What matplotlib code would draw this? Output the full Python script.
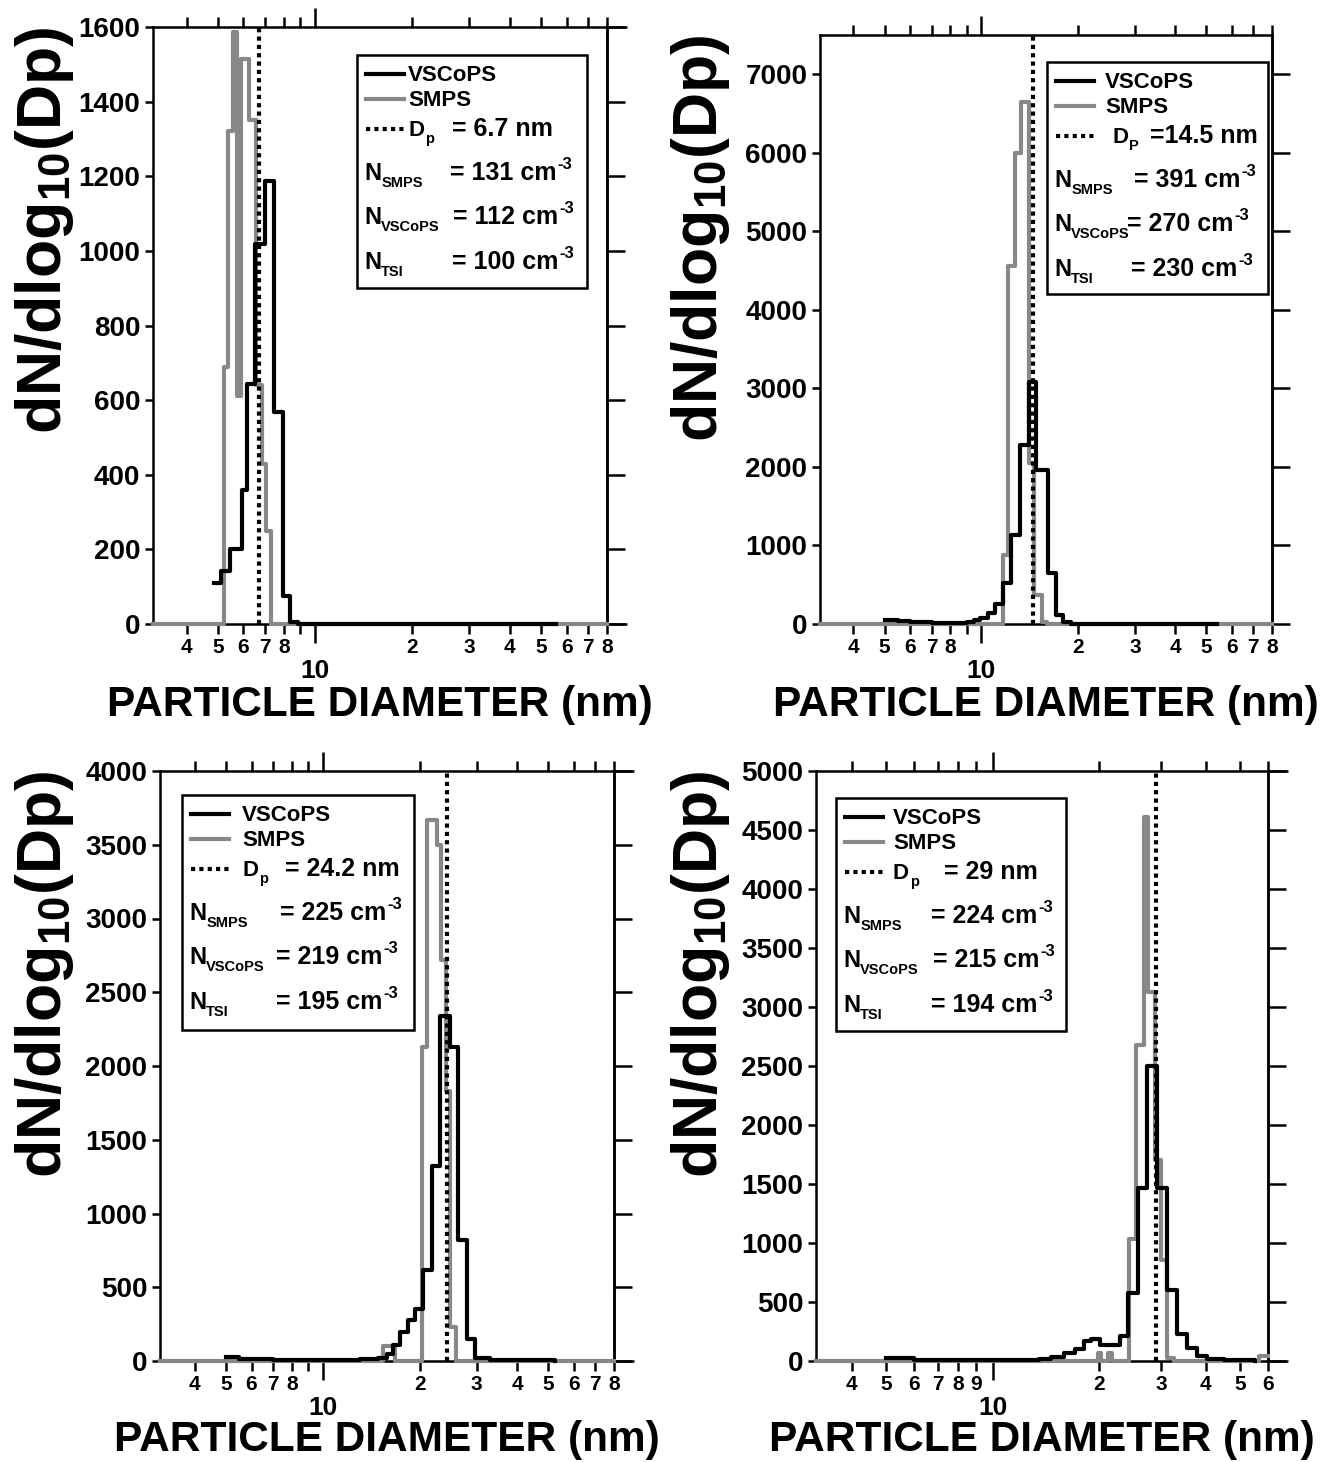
import matplotlib
matplotlib.use('Agg')
import matplotlib.pyplot as plt
from matplotlib.ticker import FixedLocator, FixedFormatter
from matplotlib.patches import Rectangle

plt.rcParams['font.family'] = 'Liberation Sans'
plt.rcParams['font.weight'] = 'bold'
plt.rcParams['mathtext.fontset'] = 'custom'
for k in ['rm', 'it', 'bf', 'sf']:
    plt.rcParams['mathtext.' + k] = 'Liberation Sans:bold'
plt.rcParams['mathtext.default'] = 'rm'

# ---- data ----
# panel 1 : Dp = 6.7 nm
p1_vscops_dp = [4.87, 5.13, 5.45, 5.92, 6.14, 6.51, 7.0, 7.46, 7.97, 8.36, 8.87, 55.6]
p1_vscops_dn = [111, 141, 202, 358, 644, 1019, 1186, 568, 74, 5, 0, 0]
p1_smps_dp = [3.15, 5.22, 5.37, 5.56, 5.74, 5.91, 6.24, 6.56, 6.85, 7.04, 7.30, 80]
p1_smps_dn = [0, 690, 1320, 1587, 610, 1515, 1350, 640, 430, 250, 0, 0]

# panel 2 : Dp = 14.5 nm
p2_vscops_dp = [5.0, 5.5, 6.0, 7.0, 8.0, 9.0, 9.5, 9.91, 10.5, 11.0, 11.7, 12.4, 13.15,
                14.1, 14.8, 16.1, 17.1, 17.9, 19.0, 54]
p2_vscops_dn = [45, 35, 25, 15, 15, 25, 45, 75, 140, 254, 520, 1130, 2280,
                3080, 1960, 650, 115, 25, 0, 0]
p2_smps_dp = [3.15, 11.7, 12.1, 12.7, 13.3, 14.1, 14.6, 15.4, 16.0, 80]
p2_smps_dn = [0, 880, 4560, 6000, 6650, 2050, 370, 25, 0, 0]

# panel 3 : Dp = 24.2 nm
p3_vscops_dp = [5.0, 5.5, 7.0, 10.0, 13.0, 14.8, 15.77, 16.53, 17.34, 18.4, 19.3, 20.5,
                21.8, 23.1, 24.8, 26.3, 27.9, 29.6, 33.0, 40.0, 52.5]
p3_vscops_dn = [25, 12, 8, 8, 12, 20, 47, 111, 199, 278, 352, 617,
                1322, 2342, 2130, 817, 149, 23, 10, 4, 0]
p3_smps_dp = [3.12, 15.4, 16.7, 20.3, 21.1, 22.6, 23.2, 24.0, 24.8, 25.9, 80]
p3_smps_dn = [0, 100, 0, 2130, 3670, 3500, 2720, 1830, 230, 0, 0]

# panel 4 : Dp = 29 nm
p4_vscops_dp = [5.0, 6.0, 8.0, 10.0, 12.0, 13.5, 14.6, 15.9, 17.1, 18.1, 19.0, 20.1, 22.9,
                24.2, 25.8, 27.3, 29.1, 31.1, 33.1, 35.4, 37.7, 40.3, 45.0, 55.0]
p4_vscops_dn = [25, 10, 5, 5, 10, 20, 34, 68, 100, 170, 190, 135, 214,
                576, 1469, 2496, 1469, 605, 230, 110, 45, 20, 8, 0]
p4_smps_dp = [3.17, 19.8, 20.3, 21.2, 21.8, 24.3, 25.4, 26.7, 27.4, 28.8, 29.9, 31.1,
              32.5, 56.5, 60]
p4_smps_dn = [0, 65, 0, 65, 0, 1030, 2680, 4614, 3130, 1700, 860, 25,
              0, 40, 40]

dp_lines = [6.7, 14.5, 24.2, 29.0]
xlims = [(3.15, 80), (3.15, 80), (3.12, 80), (3.17, 60)]
ylims = [1600, 7500, 4000, 5000]
ytick_steps = [200, 1000, 500, 500]
ytick_max = [1600, 7000, 4000, 5000]

dp_sub = ['p', 'P', 'p', 'p']
dp_texts = ['= 6.7 nm', '=14.5 nm', '= 24.2 nm', '= 29 nm']
n_smps = [131, 391, 225, 224]
n_vscops = [112, 270, 219, 215]
n_tsi = [100, 230, 195, 194]

# ---- layout (figure pixels) ----
W, H = 1330, 1462
rects = [(153, 27, 607, 624), (820, 35, 1272, 624),
         (160, 771, 614, 1361), (816, 771, 1268, 1361)]
boxes = [(357, 55, 587, 288), (1047, 62, 1268, 294),
         (182, 795, 414, 1030), (836, 798, 1066, 1031)]
label_x = [51, 58, 60, 57]
dpname_x = [51, 65, 60, 57]
dpeq_x = [95, 103, 103, 108]
eq_x = [[93, 96, 95], [87, 80, 84], [98, 94, 94], [95, 97, 95]]
ext = [20, 0, 20, 20]
ylab_x = [45, 700, 45, 700]
xlab_y = [705, 705, 1440, 1440]

GRAY = '#888888'


def frac(rect, x, y):
    l, t, r, b = rect
    return (x - l) / (r - l), (b - y) / (b - t)


fig = plt.figure(figsize=(W / 100, H / 100), dpi=100)
renderer = fig.canvas.get_renderer()


def put(x, y, s, size):
    """figure text at pixel x, baseline y (from top); returns right edge"""
    t = fig.text(x / W, 1 - y / H, s, fontsize=size, ha='left', va='baseline')
    return t.get_window_extent(renderer).x1


blacks = [(p1_vscops_dp, p1_vscops_dn), (p2_vscops_dp, p2_vscops_dn),
          (p3_vscops_dp, p3_vscops_dn), (p4_vscops_dp, p4_vscops_dn)]
grays = [(p1_smps_dp, p1_smps_dn), (p2_smps_dp, p2_smps_dn),
         (p3_smps_dp, p3_smps_dn), (p4_smps_dp, p4_smps_dn)]

for i in range(4):
    l, t, r, b = rects[i]
    ax = fig.add_axes([l / W, 1 - b / H, (r - l) / W, (b - t) / H])
    ax.set_xscale('log')

    gx, gy = grays[i]
    bx, by = blacks[i]
    ax.step(gx, gy, where='post', color=GRAY, lw=3, clip_on=False, zorder=3)
    ax.step(bx, by, where='post', color='k', lw=3, clip_on=False, zorder=4)
    ax.axvline(dp_lines[i], color='k', lw=3, linestyle=(0, (1, 1)),
               dash_capstyle='butt', zorder=5)

    ax.set_xlim(*xlims[i])
    ax.set_ylim(0, ylims[i])

    # x ticks: one major at 10, minor ticks labelled with the leading digit
    minor = [v for v in [4, 5, 6, 7, 8, 9, 20, 30, 40, 50, 60, 70, 80, 90]
             if xlims[i][0] <= v <= xlims[i][1] + 0.01]
    mlabels = []
    for v in minor:
        if v == 9 and i != 3:
            mlabels.append('')
        else:
            mlabels.append(str(v if v < 10 else v // 10))
    ax.xaxis.set_major_locator(FixedLocator([10]))
    ax.xaxis.set_major_formatter(FixedFormatter(['10']))
    ax.xaxis.set_minor_locator(FixedLocator(minor))
    ax.xaxis.set_minor_formatter(FixedFormatter(mlabels))
    ax.tick_params(axis='x', which='both', direction='out', top=True, bottom=True,
                   labeltop=False, width=1.8)
    ax.tick_params(axis='x', which='major', length=14, labelsize=19, pad=11)
    ax.tick_params(axis='x', which='minor', length=7, labelsize=15, pad=3)

    yt = list(range(0, ytick_max[i] + 1, ytick_steps[i]))
    ax.set_yticks(yt)
    ax.tick_params(axis='y', direction='out', left=True, right=False,
                   length=6, width=1.8, labelsize=20, pad=3)
    sec = ax.secondary_yaxis('right')
    sec.set_yticks(yt)
    sec.tick_params(direction='out', length=13, width=1.8, labelright=False)
    sec.spines['right'].set_linewidth(1.8)

    for s in ax.spines.values():
        s.set_linewidth(1.8)

    if ext[i]:
        e = 1 + ext[i] / (r - l)
        for yy in (0, 1):
            ax.plot([1, e], [yy, yy], color='k', lw=1.8, transform=ax.transAxes,
                    clip_on=False, solid_capstyle='butt')

    # legend box drawn by hand
    bl, bt, br, bb = boxes[i]
    x0, y0 = frac(rects[i], bl, bb)
    x1, y1 = frac(rects[i], br, bt)
    ax.add_patch(Rectangle((x0, y0), x1 - x0, y1 - y0, transform=ax.transAxes,
                           fill=True, facecolor='white', edgecolor='k', lw=1.8,
                           zorder=6))

    def sample(dy, **kw):
        fa, fy = frac(rects[i], bl + 9, bt + dy)
        fb, _ = frac(rects[i], bl + 47, bt + dy)
        ax.plot([fa, fb], [fy, fy], transform=ax.transAxes, zorder=7,
                clip_on=False, **kw)

    sample(19, color='k', lw=3)
    sample(44, color=GRAY, lw=3)
    sample(74, color='k', lw=3, linestyle=(0, (1, 1)), dash_capstyle='butt')
    put(bl + label_x[i], bt + 26, 'VSCoPS', 16)
    put(bl + label_x[i], bt + 51, 'SMPS', 16)
    xe = put(bl + dpname_x[i], bt + 81, 'D', 16)
    put(xe + 1, bt + 88, dp_sub[i], 10.5)
    put(bl + dpeq_x[i], bt + 81, dp_texts[i], 18)

    subs = ['SMPS', 'VSCoPS', 'TSI']
    vals = [n_smps[i], n_vscops[i], n_tsi[i]]
    for k, dy in enumerate([125, 169, 214]):
        xe = put(bl + 7, bt + dy, 'N', 17)
        put(xe, bt + dy + 7, subs[k], 10.5)
        xe = put(bl + eq_x[i][k], bt + dy, '= %d cm' % vals[k], 18)
        put(xe + 1, bt + dy - 11, '-3', 12)

    # axis titles
    yfx, _ = frac(rects[i], ylab_x[i], t)
    ax.text(yfx, 1.0, r'dN/dlog$_{10}$(Dp)', transform=ax.transAxes, rotation=90,
            ha='center', va='top', fontsize=45)
    fig.text((l + r) / 2 / W, 1 - xlab_y[i] / H, 'PARTICLE DIAMETER (nm)',
             ha='center', va='center', fontsize=30.5)

fig.savefig('out.png', dpi=100)
